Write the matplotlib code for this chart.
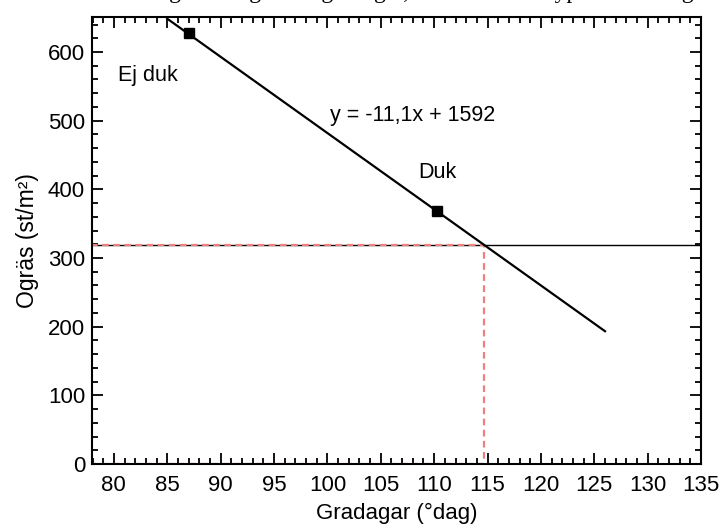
import numpy as np
import matplotlib
matplotlib.use("Agg")
import matplotlib.pyplot as plt
from matplotlib.ticker import MultipleLocator

plt.rcParams['font.family'] = ['Liberation Sans', 'DejaVu Sans']

# data
treatments = ["Ej duk", "Duk"]
gradagar = [87.0, 110.3]
ogras = [628, 368]
slope, intercept = -11.1, 1592
fit_range = [85.0, 126.0]
threshold = 319

fig = plt.figure(figsize=(7.22, 5.31), dpi=100)
ax = fig.add_axes([0.1274, 0.1262, 0.971 - 0.1274, 0.968 - 0.1262])

# regression line
xf = np.array(fit_range)
ax.plot(xf, slope * xf + intercept, color="black", lw=1.6, zorder=3)
ax.plot(gradagar, ogras, "s", color="black", ms=7.5, zorder=4)

# threshold line and where it crosses the fit
x_cross = (threshold - intercept) / slope
ax.axhline(threshold, color="black", lw=1.0, zorder=2)
ax.plot([77.9, x_cross, x_cross, 77.9, 77.9], [threshold, threshold, 0, 0, threshold],
        color="#ee7f7f", lw=1.6, ls=(0, (3, 2)), zorder=2, clip_on=True)

ax.text(83.2, 566, treatments[0], fontsize=15.5, ha="center", va="center")
ax.text(110.3, 425, treatments[1], fontsize=15.5, ha="center", va="center")
ax.text(108.0, 508, "y = -11,1x + 1592", fontsize=15.5, ha="center", va="center")

ax.set_xlim(77.95, 135)
ax.set_ylim(0, 651)
ax.xaxis.set_major_locator(MultipleLocator(5))
ax.xaxis.set_minor_locator(MultipleLocator(1))
ax.yaxis.set_major_locator(MultipleLocator(100))
ax.yaxis.set_minor_locator(MultipleLocator(20))
ax.tick_params(which="both", direction="in", top=True, right=True, labelsize=16, width=1.3)
ax.tick_params(which="major", length=8)
ax.tick_params(axis="x", which="major", pad=8)
ax.tick_params(axis="y", which="major", pad=5)
ax.tick_params(which="minor", length=4.5)
for s in ax.spines.values():
    s.set_linewidth(1.5)

ax.set_xlabel("Gradagar (°dag)", fontsize=16, labelpad=5)
ax.set_ylabel("Ogräs (st/m²)", fontsize=16.5, labelpad=6)

# title sits mostly above the figure edge, only the descenders show
fig.text(0.585, 1.003, "Ogräsmängd mot gradagar, med och utan typ av täckning",
         family="Liberation Serif", fontsize=17, ha="center", va="baseline")

fig.savefig("out.png", dpi=100)
